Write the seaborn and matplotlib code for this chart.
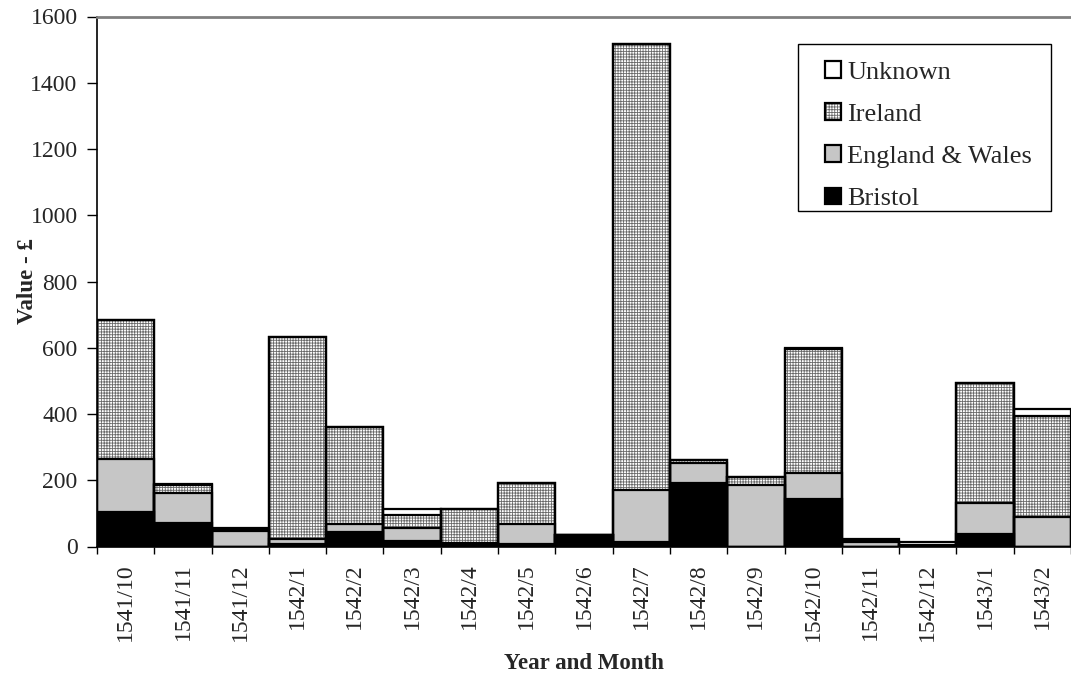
import matplotlib
matplotlib.use("Agg")
import matplotlib.pyplot as plt
from matplotlib.patches import Patch, Rectangle
from matplotlib.legend_handler import HandlerTuple
import numpy as np
import pandas as pd
import seaborn as sns

# Monthly values (pounds) by place of origin
months = ["1541/10", "1541/11", "1541/12", "1542/1", "1542/2", "1542/3",
          "1542/4", "1542/5", "1542/6", "1542/7", "1542/8", "1542/9",
          "1542/10", "1542/11", "1542/12", "1543/1", "1543/2"]
bristol = [105, 72, 0, 8, 43, 17, 5, 8, 34, 15, 193, 0, 142, 0, 0, 38, 0]
england_wales = [158, 90, 46, 14, 25, 40, 5, 60, 0, 155, 58, 185, 81, 15, 3, 94, 90]
ireland = [420, 24, 3, 611, 292, 38, 102, 124, 0, 1347, 10, 25, 372, 3, 1, 361, 305]
unknown = [0, 3, 8, 0, 0, 18, 1, 0, 0, 0, 0, 0, 4, 6, 9, 0, 19]

y_ticks = [0, 200, 400, 600, 800, 1000, 1200, 1400, 1600]

sns.set_theme(style="white")
plt.rcParams["font.family"] = ["Liberation Serif", "DejaVu Serif"]
plt.rcParams["hatch.linewidth"] = 0.6

df = pd.DataFrame({
    "month": months,
    "Bristol": bristol,
    "England & Wales": england_wales,
    "Ireland": ireland,
    "Unknown": unknown,
})
order_bottom_up = ["Bristol", "England & Wales", "Ireland", "Unknown"]
cum = df[order_bottom_up].cumsum(axis=1)

styles = {
    "Unknown": dict(color="white", hatch=None, hatch_color="white"),
    "Ireland": dict(color="white", hatch="++++++", hatch_color="#6a6a6a"),
    "England & Wales": dict(color="#c6c6c6", hatch=None, hatch_color="#c6c6c6"),
    "Bristol": dict(color="black", hatch=None, hatch_color="black"),
}

W, H = 1071, 673
fig = plt.figure(figsize=(W / 100, H / 100), dpi=100)
ax = fig.add_axes([97 / W, 1 - 546.5 / H, 974 / W, 530 / H])

# Fills: draw cumulative totals from the top layer down
for name in reversed(order_bottom_up):
    st = styles[name]
    kw = dict(x=df["month"], y=cum[name], order=months, color=st["color"],
              saturation=1, width=1.0, linewidth=0, edgecolor=st["hatch_color"],
              ax=ax)
    if st["hatch"]:
        kw["hatch"] = st["hatch"]
    sns.barplot(**kw)

# Outlines for every segment
for name in reversed(order_bottom_up):
    sns.barplot(x=df["month"], y=cum[name], order=months, fill=False,
                color="black", width=1.0, linewidth=1.6, ax=ax)

ax.set_xlim(-0.5, 16.45)
ax.set_ylim(0, 1600)
ax.set_yticks(y_ticks)
ax.set_yticklabels([str(v) for v in y_ticks], fontsize=17)
ax.set_xticks(np.arange(len(months)))
ax.set_xticklabels(months, rotation=90, fontsize=17)
ax.tick_params(axis="x", which="major", length=0, pad=12)
ax.set_xticks(np.arange(len(months) + 1) - 0.5, minor=True)
ax.tick_params(axis="x", which="minor", length=5, width=1, color="black",
               direction="out", bottom=True)
ax.tick_params(axis="y", length=7, width=1, color="black", direction="out",
               left=True, pad=7)

for s in ["left", "bottom"]:
    ax.spines[s].set_color("black")
    ax.spines[s].set_linewidth(1.2)
ax.spines["top"].set_color("#808080")
ax.spines["top"].set_linewidth(2)
ax.spines["right"].set_visible(False)

ax.set_xlabel("Year and Month", fontsize=16.5, fontweight="bold")
ax.set_ylabel("Value - £", fontsize=16.5, fontweight="bold")
ax.xaxis.set_label_coords(0.5, (546.5 - 653) / 530)
ax.yaxis.set_label_coords((38 - 97) / 974, 0.5)

# Legend, top layer first
handles = []
labels = []
for name in reversed(order_bottom_up):
    st = styles[name]
    fill = Patch(facecolor=st["color"], edgecolor=st["hatch_color"],
                 hatch=st["hatch"], linewidth=0)
    edge = Patch(facecolor="none", edgecolor="black", linewidth=1.6)
    handles.append((fill, edge))
    labels.append(name)

# Legend frame box (pixel layout converted to figure fractions)
box_l, box_t, box_r, box_b = 798, 44, 1051, 211
fig.add_artist(Rectangle((box_l / W, 1 - box_b / H), (box_r - box_l) / W,
                         (box_b - box_t) / H, transform=fig.transFigure,
                         facecolor="white", edgecolor="black", linewidth=1.0,
                         zorder=4))

leg = fig.legend(handles, labels, loc="upper left",
                 bbox_to_anchor=(813 / W, 1 - 49 / H),
                 fontsize=19, frameon=False,
                 handlelength=0.6, handleheight=0.6, handletextpad=0.25,
                 labelspacing=0.74, borderpad=0.45, borderaxespad=0,
                 handler_map={tuple: HandlerTuple(ndivide=1)})
leg.set_zorder(5)

fig.savefig("out.png", dpi=100, facecolor="white")
